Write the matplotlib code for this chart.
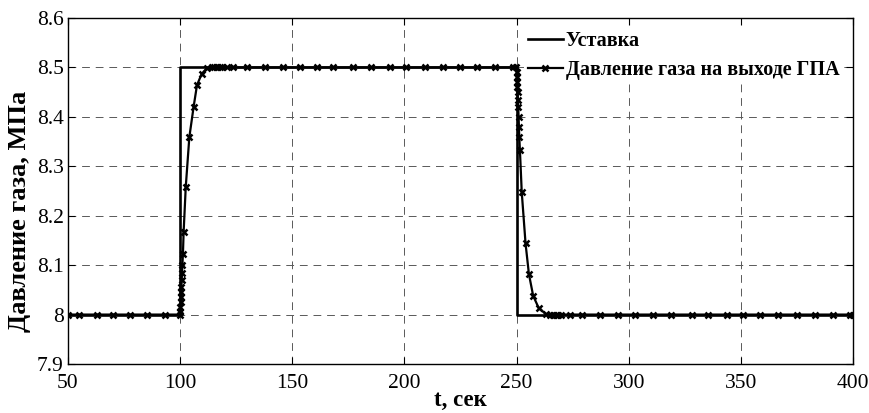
import matplotlib
matplotlib.use("Agg")
import matplotlib.pyplot as plt
from matplotlib.lines import Line2D

# Setpoint (Уставка)
t_set = [50, 100, 100, 250, 250, 400]
p_set = [8.0, 8.0, 8.5, 8.5, 8.0, 8.0]

# Gas pressure at the GPA outlet
t_resp = [50, 55.0, 62.8, 69.9, 77.6, 85.2, 93.2, 99.9,
          100.05, 100.15, 100.25, 100.35, 100.45, 100.55, 100.7, 100.85, 101.0,
          101.25, 101.55, 102.5, 104.1, 106.0, 107.5, 109.6, 111.8,
          114.0, 115.2, 116.4, 117.6, 118.8, 120.7, 123.6, 129.7, 137.8,
          146.0, 153.4, 160.8, 168.2, 177.2, 185.3, 193.5, 200.9, 209.2,
          217.3, 224.8, 232.2, 240.4, 248.6, 249.9,
          250.05, 250.15, 250.25, 250.35, 250.45, 250.6, 250.75, 250.9, 251.05,
          251.2, 251.5, 252.3, 254.0, 255.5, 257.4, 259.8, 263.0,
          265.0, 266.2, 267.4, 268.6, 270.0, 273.8, 279.0, 287.0, 295.0,
          302.8, 310.8, 319.0, 328.0, 335.4, 343.7, 351.0, 358.5, 366.5,
          374.9, 383.0, 391.0, 398.6, 400.0]
p_resp = [8.0, 8.0, 8.0, 8.0, 8.0, 8.0, 8.0, 8.0,
          8.005, 8.015, 8.025, 8.035, 8.045, 8.055, 8.07, 8.085, 8.10,
          8.123, 8.167, 8.258, 8.359, 8.42, 8.464, 8.487, 8.498,
          8.5, 8.5, 8.5, 8.5, 8.5, 8.5, 8.5, 8.5, 8.5,
          8.5, 8.5, 8.5, 8.5, 8.5, 8.5, 8.5, 8.5, 8.5,
          8.5, 8.5, 8.5, 8.5, 8.5, 8.5,
          8.49, 8.48, 8.47, 8.46, 8.45, 8.435, 8.42, 8.40, 8.38,
          8.36, 8.332, 8.248, 8.144, 8.082, 8.038, 8.014, 8.001,
          8.0, 8.0, 8.0, 8.0, 8.0, 8.0, 8.0, 8.0, 8.0,
          8.0, 8.0, 8.0, 8.0, 8.0, 8.0, 8.0, 8.0, 8.0,
          8.0, 8.0, 8.0, 8.0, 8.0]

x_ticks = [50, 100, 150, 200, 250, 300, 350, 400]
y_ticks = [7.9, 8.0, 8.1, 8.2, 8.3, 8.4, 8.5, 8.6]
y_ticklabels = ["7.9", "8", "8.1", "8.2", "8.3", "8.4", "8.5", "8.6"]

label_set = "Уставка"
label_resp = "Давление газа на выходе ГПА"
xlabel = "t, сек"
ylabel = "Давление газа, МПа"

plt.rcParams['font.family'] = ['Liberation Serif', 'DejaVu Serif']

fig = plt.figure(figsize=(8.69, 4.13), dpi=100)
ax = fig.add_axes([68/869, 1-364/413, (853-68)/869, (364-18)/413])

ax.plot(t_set, p_set, color='black', lw=1.9, zorder=3)
ax.plot(t_resp, p_resp, color='black', lw=1.6, marker='x', ms=4.5,
        mew=1.8, zorder=4)

ax.set_xlim(50, 400)
ax.set_ylim(7.9, 8.6)
ax.set_xticks(x_ticks)
ax.set_yticks(y_ticks)
ax.set_yticklabels(y_ticklabels)
ax.tick_params(direction='in', top=True, right=True, labelsize=15.5,
               length=5, width=0.8, pad=3)
ax.tick_params(axis='x', pad=7)
for s in ax.spines.values():
    s.set_linewidth(1.0)

ax.grid(True, color='0.35', linestyle=(0, (8, 6)), linewidth=0.7)
ax.set_axisbelow(True)

ax.set_xlabel(xlabel, fontsize=16.5, fontweight='bold', labelpad=-2)
ax.set_ylabel(ylabel, fontsize=19, fontweight='bold', labelpad=0)
ax.yaxis.set_label_coords(-0.047, 0.44)

handles = [Line2D([], [], color='black', lw=1.9),
           Line2D([], [], color='black', lw=1.6, marker='x', ms=4.5, mew=1.8)]
leg = ax.legend(handles, [label_set, label_resp], loc='upper right',
                bbox_to_anchor=(0.993, 0.985),
                prop={'weight': 'bold', 'size': 14.5},
                frameon=True, fancybox=False, edgecolor='none',
                facecolor='white', framealpha=1, handlelength=1.75,
                handletextpad=0.15, labelspacing=0.45, borderpad=0.2,
                borderaxespad=0.2)
leg.set_zorder(10)

fig.savefig("out.png", dpi=100)
